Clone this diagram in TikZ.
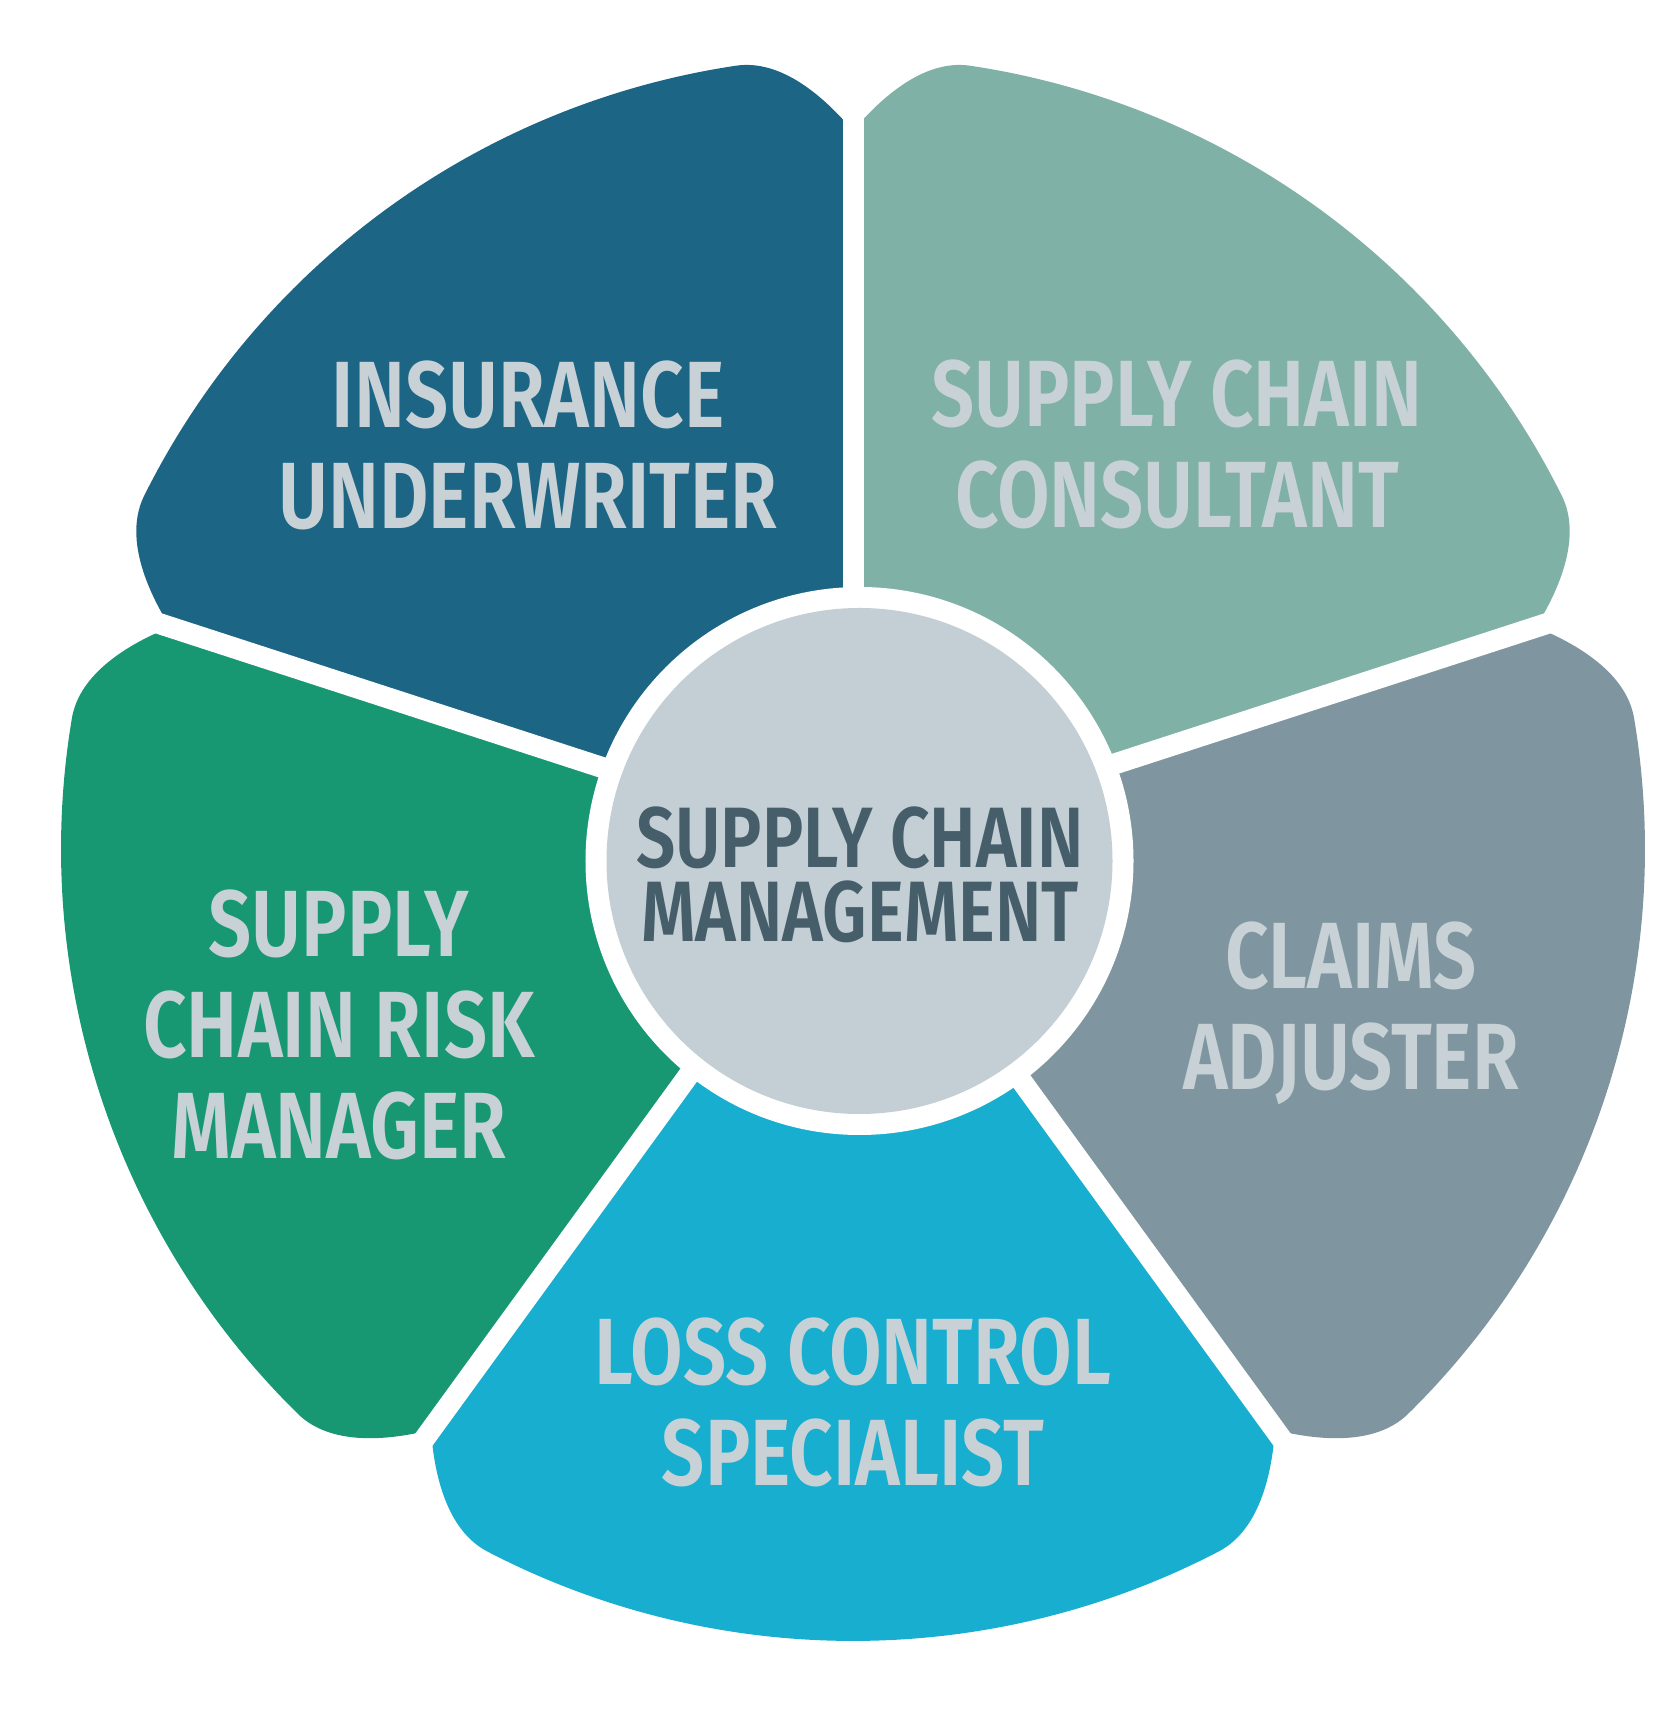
\documentclass[tikz,border=0pt]{standalone}
\usepackage{fontspec}
\setmainfont{Fira Sans}[BoldFont={Fira Sans SemiBold}, FakeStretch=0.81]
\usetikzlibrary{positioning}

\definecolor{underwriter}{HTML}{1C6584}
\definecolor{consultant}{HTML}{80B1A6}
\definecolor{adjuster}{HTML}{7F96A0}
\definecolor{specialist}{HTML}{17AECF}
\definecolor{riskmgr}{HTML}{179873}
\definecolor{hubfill}{HTML}{C3CFD4}
\definecolor{segtext}{HTML}{C8D2D6}
\definecolor{hubtext}{HTML}{455E6A}

\begin{document}
\begin{tikzpicture}[
    gap/.style={white, line width=0.21cm},
    seglabel/.style={text=segtext, align=center, font=\bfseries\fontsize{26.8}{28.7}\selectfont},
    hublabel/.style={text=hubtext, align=center, font=\bfseries\fontsize{24.4}{21}\selectfont}
]
    \useasboundingbox (-8.53,-8.81) rectangle (8.18,8.49);

    % Segments
    \foreach \a/\col in {90/underwriter, 18/consultant, -54/adjuster, 234/specialist, 162/riskmgr} {
        \pgfmathsetmacro{\b}{\a+72}
        \fill[\col] (0,0) -- (\a:7.18)
            .. controls (\a+2.2:7.53) and (\a+5.2:7.933) .. (\a+8.5:7.92)
            arc[start angle=\a+8.5, end angle=\b-8.5, radius=7.92]
            .. controls (\b-5.2:7.933) and (\b-2.2:7.53) .. (\b:7.18)
            -- cycle;
    }

    % Gaps
    \foreach \a in {18,90,162,234,306}
        \draw[gap] (0,0) -- (\a:8.4);

    % Hub
    \fill[white] (0.065,-0.12) circle (2.74);
    \node[circle, fill=hubfill, minimum size=5.06cm, inner sep=0pt] (hub) at (0.065,-0.12) {};
    \node[hublabel] (scm) at (0.07,-0.26) {SUPPLY CHAIN\\MANAGEMENT};

    % Labels
    \node[seglabel] (iu) at (-3.25,4.04) {INSURANCE\\UNDERWRITER};
    \node[seglabel] (scc) at (3.24,4.05) {SUPPLY CHAIN\\CONSULTANT};
    \node[seglabel] (ca) at (4.98,-1.64) {CLAIMS\\ADJUSTER};
    \node[seglabel] (lcs) at (0.00,-5.53) {LOSS CONTROL\\SPECIALIST};
    \node[seglabel] (scrm) at (-5.14,-1.76) {SUPPLY\\CHAIN RISK\\MANAGER};

\end{tikzpicture}
\end{document}
